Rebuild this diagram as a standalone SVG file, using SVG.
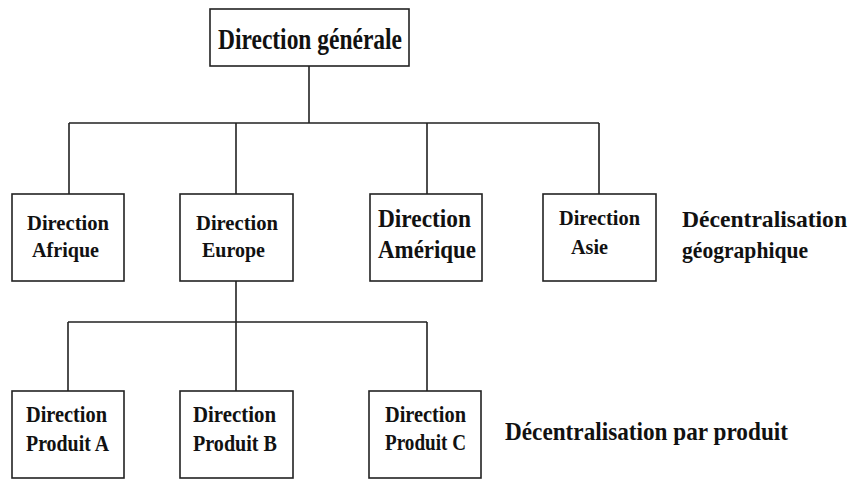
<svg xmlns="http://www.w3.org/2000/svg" width="850" height="479" viewBox="0 0 850 479">
  <style>
    .box { fill: #ffffff; stroke: #222222; stroke-width: 1.6; }
    .wire { fill: none; stroke: #222222; stroke-width: 1.6; }
    text { font-family: "Liberation Serif", "Times New Roman", serif; font-weight: bold; fill: #111111; }
  </style>
  <rect width="850" height="479" fill="#ffffff"/>

  <!-- connectors -->
  <g id="connectors">
    <path class="wire" d="M309,66 V123 M69,123 H599 M69,123 V194 M236,123 V194 M427,123 V194 M599,123 V194"/>
    <path class="wire" d="M236,281 V322 M68,322 H427 M68,322 V391 M236,322 V391 M427,322 V391"/>
  </g>

  <!-- top level -->
  <g id="direction-generale">
    <rect class="box" x="210" y="9" width="199" height="57"/>
    <text x="218" y="49" font-size="29" textLength="184" lengthAdjust="spacingAndGlyphs">Direction générale</text>
  </g>

  <!-- geographic divisions -->
  <g id="direction-afrique">
    <rect class="box" x="12" y="194" width="112" height="87"/>
    <text x="27" y="230" font-size="22" textLength="82" lengthAdjust="spacingAndGlyphs">Direction</text>
    <text x="32" y="257" font-size="22" textLength="67" lengthAdjust="spacingAndGlyphs">Afrique</text>
  </g>
  <g id="direction-europe">
    <rect class="box" x="180" y="194" width="113" height="87"/>
    <text x="196" y="230" font-size="22" textLength="82" lengthAdjust="spacingAndGlyphs">Direction</text>
    <text x="202" y="257" font-size="22" textLength="63" lengthAdjust="spacingAndGlyphs">Europe</text>
  </g>
  <g id="direction-amerique">
    <rect class="box" x="370" y="194" width="112" height="87"/>
    <text x="378" y="227" font-size="25" textLength="93" lengthAdjust="spacingAndGlyphs">Direction</text>
    <text x="378" y="258" font-size="25" textLength="98" lengthAdjust="spacingAndGlyphs">Amérique</text>
  </g>
  <g id="direction-asie">
    <rect class="box" x="543" y="194" width="113" height="87"/>
    <text x="559" y="225" font-size="22" textLength="81" lengthAdjust="spacingAndGlyphs">Direction</text>
    <text x="571" y="254" font-size="22" textLength="37" lengthAdjust="spacingAndGlyphs">Asie</text>
  </g>
  <g id="label-geographique">
    <text x="682" y="227" font-size="23" textLength="165" lengthAdjust="spacingAndGlyphs">Décentralisation</text>
    <text x="682" y="258" font-size="23" textLength="126" lengthAdjust="spacingAndGlyphs">géographique</text>
  </g>

  <!-- product divisions -->
  <g id="direction-produit-a">
    <rect class="box" x="12" y="391" width="112" height="87"/>
    <text x="26" y="422" font-size="23" textLength="81" lengthAdjust="spacingAndGlyphs">Direction</text>
    <text x="26" y="451" font-size="23" textLength="83" lengthAdjust="spacingAndGlyphs">Produit A</text>
  </g>
  <g id="direction-produit-b">
    <rect class="box" x="180" y="391" width="113" height="87"/>
    <text x="193" y="422" font-size="23" textLength="83" lengthAdjust="spacingAndGlyphs">Direction</text>
    <text x="193" y="451" font-size="23" textLength="84" lengthAdjust="spacingAndGlyphs">Produit B</text>
  </g>
  <g id="direction-produit-c">
    <rect class="box" x="369" y="391" width="112" height="87"/>
    <text x="385" y="422" font-size="23" textLength="81" lengthAdjust="spacingAndGlyphs">Direction</text>
    <text x="385" y="450" font-size="23" textLength="81" lengthAdjust="spacingAndGlyphs">Produit C</text>
  </g>
  <g id="label-produit">
    <text x="505" y="440" font-size="25" textLength="283" lengthAdjust="spacingAndGlyphs">Décentralisation par produit</text>
  </g>
</svg>
